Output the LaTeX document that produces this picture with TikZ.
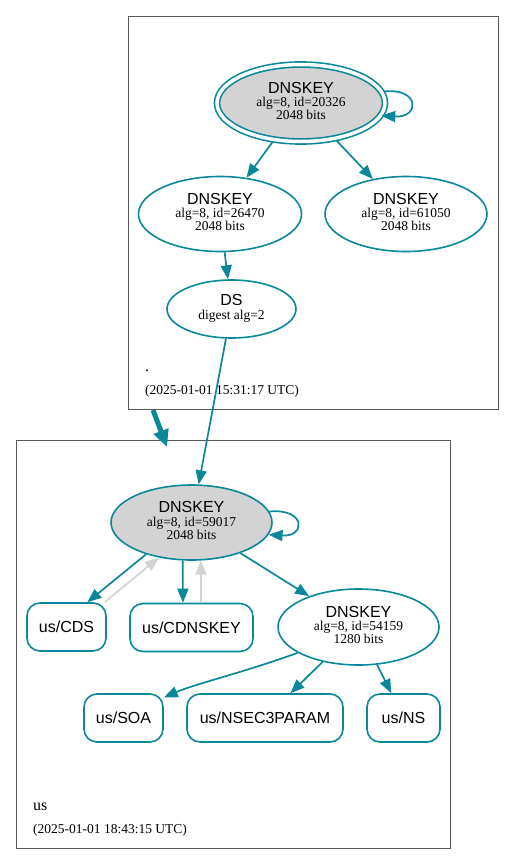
\documentclass[tikz,border=0pt]{standalone}
\usepackage{fontspec}
\setmainfont{Liberation Serif}
\setsansfont{Liberation Sans}
\usepackage{tikz}
\usetikzlibrary{shapes.geometric,arrows.meta}
\definecolor{myteal}{HTML}{0A879A}
\definecolor{mygray}{HTML}{D3D3D3}
\definecolor{boxgray}{gray}{0.35}
\newcommand{\rrtype}[1]{{\fontsize{16}{16}\selectfont\sffamily #1}}

\begin{document}
\begin{tikzpicture}[x=1pt,y=-1pt,
    key/.style={ellipse,draw=myteal,line width=1.6pt,inner sep=0pt,align=center,
      font=\fontsize{13.5}{13.3}\selectfont,text depth=4pt},
    rrset/.style={rectangle,rounded corners=13pt,draw=myteal,line width=1.6pt,
      inner sep=0pt,minimum height=48pt,font=\fontsize{16}{16}\selectfont\sffamily},
    sig/.style={myteal,line width=1.7pt,-{Triangle[length=14pt,width=11pt]}},
    cdsline/.style={mygray,line width=1.7pt,-{Triangle[length=14pt,width=11pt]}},
    deleg/.style={myteal,line width=5pt,-{Triangle[length=17pt,width=15pt]}},
    zone/.style={draw=boxgray,line width=0.9pt},
    zonename/.style={inner sep=0pt,anchor=base west,font=\fontsize{16}{16}\selectfont},
    stamp/.style={inner sep=0pt,anchor=base west,font=\fontsize{13.5}{13.5}\selectfont}]
    \useasboundingbox (0,0) rectangle (515,865);

    % zone boxes
    \draw[zone] (128,16) rectangle (498,409);
    \draw[zone] (16,440) rectangle (450,848);
    \coordinate (RootTail) at (153,410);
    \coordinate (UsHead)   at (167,447);

    % root zone
    \node[key,fill=mygray,double,double distance=3.5pt,minimum width=168pt,minimum height=77pt]
      (RootKSK) at (301,103) {\rrtype{DNSKEY}\\alg=8, id=20326\\2048 bits};
    \node[key,minimum width=163pt,minimum height=75pt] (RootZSKa) at (220,214)
      {\rrtype{DNSKEY}\\alg=8, id=26470\\2048 bits};
    \node[key,minimum width=162pt,minimum height=75pt] (RootZSKb) at (406,214)
      {\rrtype{DNSKEY}\\alg=8, id=61050\\2048 bits};
    \node[key,minimum width=129pt,minimum height=58pt] (RootDS) at (231.5,309)
      {\rrtype{DS}\\digest alg=2};
    \node[zonename] (RootName) at (145,371) {.};
    \node[stamp] (RootTime) at (145,394) {(2025-01-01 15:31:17 UTC)};

    % us zone
    \node[key,fill=mygray,minimum width=161pt,minimum height=75pt] (UsKSK) at (191.5,522.5)
      {\rrtype{DNSKEY}\\alg=8, id=59017\\2048 bits};
    \node[key,minimum width=161pt,minimum height=76pt] (UsZSK) at (358.5,627)
      {\rrtype{DNSKEY}\\alg=8, id=54159\\1280 bits};
    \node[rrset,minimum width=79pt] (UsCDS) at (66.5,627) {us/CDS};
    \node[rrset,minimum width=123pt] (UsCDNSKEY) at (191.5,627.5) {us/CDNSKEY};
    \node[rrset,minimum width=79pt] (UsSOA) at (123.5,718) {us/SOA};
    \node[rrset,minimum width=156pt] (UsNSEC) at (265,718) {us/NSEC3PARAM};
    \node[rrset,minimum width=73pt] (UsNS) at (403.5,718) {us/NS};
    \node[zonename] (UsName) at (33,810) {us};
    \node[stamp] (UsTime) at (33,833) {(2025-01-01 18:43:15 UTC)};

    % signatures
    \draw[sig,shorten <=2.5pt] (RootKSK.8) .. controls (420,88) and (420,118) .. (RootKSK.-9);
    \draw[sig,shorten <=2.5pt] (RootKSK) -- (RootZSKa);
    \draw[sig,shorten <=2.5pt] (RootKSK) -- (RootZSKb);
    \draw[sig] (RootZSKa) -- (RootDS);
    \draw[sig] (RootDS) -- (UsKSK);
    \draw[deleg] (RootTail) -- (UsHead);

    \draw[sig] (UsKSK.8) .. controls (306,508) and (306,537) .. (UsKSK.-9);
    \draw[sig] (UsKSK.215) -- (UsCDS.50);
    \draw[cdsline] (UsCDS.33) -- (UsKSK.227);
    \draw[sig] (UsKSK.257) -- (UsCDNSKEY.109);
    \draw[cdsline] (UsCDNSKEY.69) -- (UsKSK.284);
    \draw[sig] (UsKSK) -- (UsZSK);
    \draw[sig] (UsZSK.203) .. controls (245,672) and (195,684) .. (UsSOA.27);
    \draw[sig] (UsZSK) -- (UsNSEC);
    \draw[sig] (UsZSK) -- (UsNS);
\end{tikzpicture}
\end{document}
